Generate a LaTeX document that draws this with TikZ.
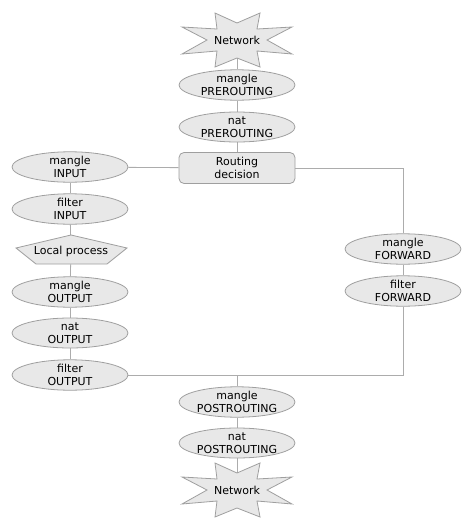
\documentclass[tikz,border=0pt]{standalone}
\usepackage{fontspec}
\setmainfont{DejaVu Sans}
\usetikzlibrary{shapes.geometric}
\pgfdeclarelayer{background}
\pgfsetlayers{background,main}

\begin{document}
\begin{tikzpicture}[x=1pt,y=-1pt,
    chain/.style={ellipse,draw=gray!75,fill=gray!18,line width=0.8pt,
      minimum width=116pt,minimum height=30pt,inner sep=0pt,align=center,
      font=\fontsize{11}{13}\selectfont},
    decide/.style={rectangle,rounded corners=5pt,draw=gray!75,fill=gray!18,
      line width=0.8pt,minimum width=116pt,minimum height=31pt,inner sep=0pt,
      align=center,font=\fontsize{11}{13}\selectfont},
    label/.style={inner sep=1pt,font=\fontsize{11}{13}\selectfont},
    outline/.style={draw=gray!75,fill=gray!18,line width=0.8pt,line join=miter},
    link/.style={draw=gray!65,line width=0.8pt}]
  \useasboundingbox (0,0) rectangle (474,525);

  % centre column
  \node[label] (net1) at (237,40) {Network};
  \node[chain] (mpre) at (237,85) {mangle\\PREROUTING};
  \node[chain] (npre) at (237,127) {nat\\PREROUTING};
  \node[decide] (route) at (237,168) {Routing\\decision};
  \node[chain] (mpost) at (237,402) {mangle\\POSTROUTING};
  \node[chain] (npost) at (237,443) {nat\\POSTROUTING};
  \node[label] (net2) at (237,490) {Network};

  % local column
  \node[chain] (minput) at (70,167) {mangle\\INPUT};
  \node[chain] (finput) at (70,209) {filter\\INPUT};
  \node[label] (local) at (71,251) {Local process};
  \node[chain] (mout) at (70,292) {mangle\\OUTPUT};
  \node[chain] (nout) at (70,333) {nat\\OUTPUT};
  \node[chain] (fout) at (70,375) {filter\\OUTPUT};

  % forward column
  \node[chain] (mfwd) at (403,249) {mangle\\FORWARD};
  \node[chain] (ffwd) at (403,291) {filter\\FORWARD};

  % connectors
  \begin{pgfonlayer}{background}
    \draw[link] (net1) -- (mpre);
    \draw[link] (mpre) -- (npre);
    \draw[link] (npre) -- (route);
    \draw[link] (route) -- (minput);
    \draw[link] (minput) -- (finput);
    \draw[link] (finput) -- (local);
    \draw[link] (local) -- (mout);
    \draw[link] (mout) -- (nout);
    \draw[link] (nout) -- (fout);
    \draw[link] (route.east) -| (mfwd.north);
    \draw[link] (mfwd) -- (ffwd);
    \draw[link] (ffwd.south) |- (fout.east);
    \draw[link] (mpost) -- (mpost |- fout.east);
    \draw[link] (mpost) -- (npost);
    \draw[link] (npost) -- (net2);
  \end{pgfonlayer}

  % outlines behind the plain labels
  \begin{pgfonlayer}{background}
    \foreach \c in {net1,net2}{
      \draw[outline,shift={(\c.center)}] (0,-17) -- (23,-27) -- (20,-11) -- (55,-13)
        -- (30,0) -- (55,14) -- (20,11) -- (23,27) -- (0,18) -- (-22,27)
        -- (-20,11) -- (-55,14) -- (-30,0) -- (-55,-13) -- (-20,-11)
        -- (-22,-27) -- cycle;
    }
    \draw[outline,shift={(local.center)}] (0,-16) -- (56,-3) -- (36,13)
      -- (-35,13) -- (-55,-3) -- cycle;
  \end{pgfonlayer}
\end{tikzpicture}
\end{document}
